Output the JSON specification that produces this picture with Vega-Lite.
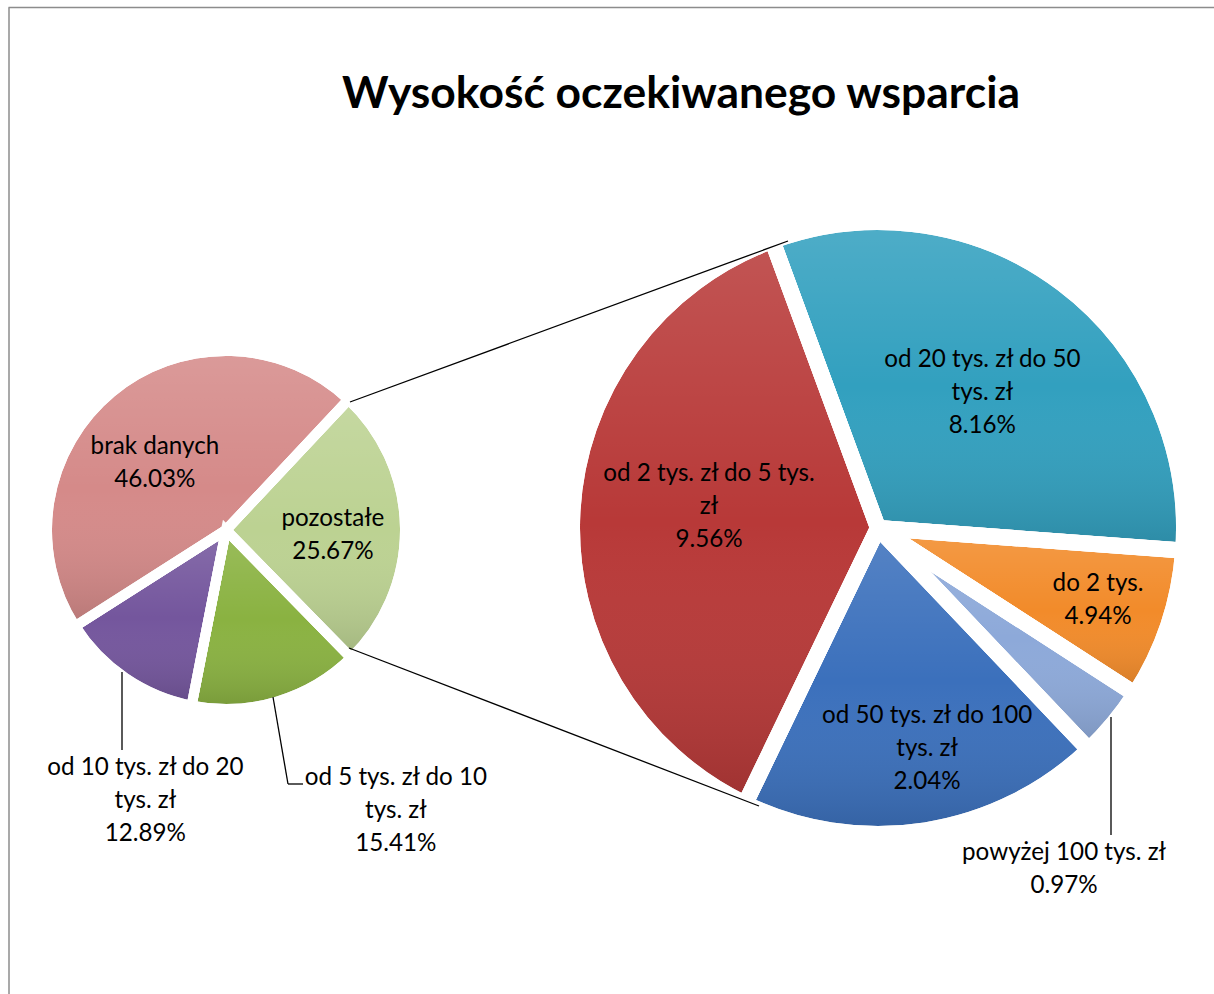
{
  "$schema": "https://vega.github.io/schema/vega-lite/v6.json",
  "width": 1214,
  "height": 994,
  "autosize": {"type": "none"},
  "padding": 0,
  "background": "white",
  "view": {"stroke": null},
  "config": {"font": "Lato"},
  "title": {
    "text": "Wysokość oczekiwanego wsparcia",
    "font": "Lato",
    "fontSize": 44.4,
    "fontWeight": "bold",
    "color": "#000000",
    "anchor": "middle",
    "frame": "group",
    "baseline": "alphabetic",
    "offset": -152,
    "dx": 74
  },
  "data": {
    "values": [
      {"wykres": "główny", "nr": 1, "kategoria": "pozostałe", "udzial": 25.67, "etykieta": "pozostałe\n25.67%"},
      {"wykres": "główny", "nr": 2, "kategoria": "od 5 tys. zł do 10 tys. zł", "udzial": 15.41, "etykieta": "od 5 tys. zł do 10\ntys. zł\n15.41%"},
      {"wykres": "główny", "nr": 3, "kategoria": "od 10 tys. zł do 20 tys. zł", "udzial": 12.89, "etykieta": "od 10 tys. zł do 20\ntys. zł\n12.89%"},
      {"wykres": "główny", "nr": 4, "kategoria": "brak danych", "udzial": 46.03, "etykieta": "brak danych\n46.03%"},
      {"wykres": "szczegóły", "nr": 1, "kategoria": "od 20 tys. zł do 50 tys. zł", "udzial": 8.16, "etykieta": "od 20 tys. zł do 50\ntys. zł\n8.16%"},
      {"wykres": "szczegóły", "nr": 2, "kategoria": "do 2 tys.", "udzial": 2.04, "etykieta": "do 2 tys.\n4.94%"},
      {"wykres": "szczegóły", "nr": 3, "kategoria": "powyżej 100 tys. zł", "udzial": 0.97, "etykieta": "powyżej 100 tys. zł\n0.97%"},
      {"wykres": "szczegóły", "nr": 4, "kategoria": "od 50 tys. zł do 100 tys. zł", "udzial": 4.94, "etykieta": "od 50 tys. zł do 100\ntys. zł\n2.04%"},
      {"wykres": "szczegóły", "nr": 5, "kategoria": "od 2 tys. zł do 5 tys. zł", "udzial": 9.56, "etykieta": "od 2 tys. zł do 5 tys.\nzł\n9.56%"}
    ]
  },
  "resolve": {"scale": {"theta": "independent"}},
  "layer": [
    {
      "transform": [{"filter": "datum.wykres === 'główny'"}],
      "mark": {"type": "arc", "outerRadius": 179, "stroke": "white", "strokeWidth": 10},
      "encoding": {
        "x": {"datum": 226, "type": "quantitative", "scale": {"domain": [0, 1214], "nice": false, "zero": false}, "axis": null},
        "y": {"datum": 530, "type": "quantitative", "scale": {"domain": [0, 994], "reverse": true, "nice": false, "zero": false}, "axis": null},
        "theta": {"field": "udzial", "type": "quantitative", "stack": true, "scale": {"range": [0.754, 7.0372]}},
        "color": {
          "field": "kategoria", "type": "nominal", "legend": null,
          "scale": {
            "domain": ["pozostałe", "od 5 tys. zł do 10 tys. zł", "od 10 tys. zł do 20 tys. zł", "brak danych", "od 20 tys. zł do 50 tys. zł", "do 2 tys.", "powyżej 100 tys. zł", "od 50 tys. zł do 100 tys. zł", "od 2 tys. zł do 5 tys. zł"],
            "range": ["#BCD292", "#8AB241", "#74569D", "#D58A89", "#32A0BF", "#F28B2A", "#8DA9D9", "#3B70BC", "#B83938"]
          }
        },
        "order": {"field": "nr", "type": "quantitative"}
      }
    },
    {
      "transform": [{"filter": "datum.wykres === 'główny'"}],
      "mark": {
        "type": "arc", "outerRadius": 179, "stroke": "white", "strokeWidth": 10,
        "fill": {"gradient": "linear", "x1": 0, "y1": 0, "x2": 0, "y2": 1, "stops": [
          {"offset": 0, "color": "rgba(255,255,255,0.14)"},
          {"offset": 0.5, "color": "rgba(255,255,255,0)"},
          {"offset": 1, "color": "rgba(0,0,0,0.14)"}
        ]}
      },
      "encoding": {
        "x": {"datum": 226, "type": "quantitative"},
        "y": {"datum": 530, "type": "quantitative"},
        "theta": {"field": "udzial", "type": "quantitative", "stack": true, "scale": {"range": [0.754, 7.0372]}},
        "detail": {"field": "kategoria", "type": "nominal"},
        "order": {"field": "nr", "type": "quantitative"}
      }
    },
    {
      "transform": [{"filter": "datum.wykres === 'szczegóły'"}],
      "mark": {"type": "arc", "outerRadius": 306, "stroke": "white", "strokeWidth": 16},
      "encoding": {
        "x": {"datum": 878, "type": "quantitative"},
        "y": {"datum": 528, "type": "quantitative"},
        "theta": {"field": "udzial", "type": "quantitative", "stack": true, "scale": {"range": [-0.3526, 5.9306]}},
        "color": {"field": "kategoria", "type": "nominal", "legend": null},
        "order": {"field": "nr", "type": "quantitative"}
      }
    },
    {
      "transform": [{"filter": "datum.wykres === 'szczegóły'"}],
      "mark": {
        "type": "arc", "outerRadius": 306, "stroke": "white", "strokeWidth": 16,
        "fill": {"gradient": "linear", "x1": 0, "y1": 0, "x2": 0, "y2": 1, "stops": [
          {"offset": 0, "color": "rgba(255,255,255,0.14)"},
          {"offset": 0.5, "color": "rgba(255,255,255,0)"},
          {"offset": 1, "color": "rgba(0,0,0,0.14)"}
        ]}
      },
      "encoding": {
        "x": {"datum": 878, "type": "quantitative"},
        "y": {"datum": 528, "type": "quantitative"},
        "theta": {"field": "udzial", "type": "quantitative", "stack": true, "scale": {"range": [-0.3526, 5.9306]}},
        "detail": {"field": "kategoria", "type": "nominal"},
        "order": {"field": "nr", "type": "quantitative"}
      }
    },
    {
      "data": {"values": [{}]},
      "mark": {"type": "rule", "color": "#8c8c8c", "strokeWidth": 1.5},
      "encoding": {"x": {"datum": 8.5, "type": "quantitative"}, "y": {"datum": 7.5, "type": "quantitative"}, "x2": {"datum": 1214}, "y2": {"datum": 7.5}}
    },
    {
      "data": {"values": [{}]},
      "mark": {"type": "rule", "color": "#8c8c8c", "strokeWidth": 1.5},
      "encoding": {"x": {"datum": 9, "type": "quantitative"}, "y": {"datum": 7.5, "type": "quantitative"}, "x2": {"datum": 9}, "y2": {"datum": 994}}
    },
    {
      "data": {"values": [{}]},
      "mark": {"type": "rule", "color": "#000000", "strokeWidth": 1.3},
      "encoding": {"x": {"datum": 350, "type": "quantitative"}, "y": {"datum": 402, "type": "quantitative"}, "x2": {"datum": 788}, "y2": {"datum": 241}}
    },
    {
      "data": {"values": [{}]},
      "mark": {"type": "rule", "color": "#000000", "strokeWidth": 1.3},
      "encoding": {"x": {"datum": 349, "type": "quantitative"}, "y": {"datum": 648, "type": "quantitative"}, "x2": {"datum": 759}, "y2": {"datum": 806}}
    },
    {
      "data": {"values": [{}]},
      "mark": {"type": "rule", "color": "#000000", "strokeWidth": 1.3},
      "encoding": {"x": {"datum": 122, "type": "quantitative"}, "y": {"datum": 672, "type": "quantitative"}, "x2": {"datum": 122}, "y2": {"datum": 750}}
    },
    {
      "data": {"values": [{}]},
      "mark": {"type": "rule", "color": "#000000", "strokeWidth": 1.3},
      "encoding": {"x": {"datum": 273, "type": "quantitative"}, "y": {"datum": 697, "type": "quantitative"}, "x2": {"datum": 288}, "y2": {"datum": 784}}
    },
    {
      "data": {"values": [{}]},
      "mark": {"type": "rule", "color": "#000000", "strokeWidth": 1.3},
      "encoding": {"x": {"datum": 288, "type": "quantitative"}, "y": {"datum": 784, "type": "quantitative"}, "x2": {"datum": 303}, "y2": {"datum": 784}}
    },
    {
      "data": {"values": [{}]},
      "mark": {"type": "rule", "color": "#000000", "strokeWidth": 1.3},
      "encoding": {"x": {"datum": 1111, "type": "quantitative"}, "y": {"datum": 717, "type": "quantitative"}, "x2": {"datum": 1111}, "y2": {"datum": 835}}
    },
    {
      "transform": [{"filter": "datum.wykres === 'główny'"}],
      "mark": {"type": "text", "radius": 97.6, "thetaOffset": -0.124, "dy": -16.5, "font": "Lato", "fontSize": 24.2, "lineHeight": 33, "lineBreak": "\n", "align": "center", "baseline": "middle", "color": "#000000"},
      "encoding": {
        "x": {"datum": 226, "type": "quantitative"},
        "y": {"datum": 530, "type": "quantitative"},
        "theta": {"field": "udzial", "type": "quantitative", "stack": true, "scale": {"range": [0.754, 7.0372]}},
        "detail": {"field": "kategoria", "type": "nominal"},
        "order": {"field": "nr", "type": "quantitative"},
        "text": {"condition": {"test": "datum.kategoria === 'brak danych'", "field": "etykieta", "type": "nominal"}, "value": ""}
      }
    },
    {
      "transform": [{"filter": "datum.wykres === 'główny'"}],
      "mark": {"type": "text", "radius": 107.1, "thetaOffset": 0.061, "dy": -16.5, "font": "Lato", "fontSize": 24.2, "lineHeight": 33, "lineBreak": "\n", "align": "center", "baseline": "middle", "color": "#000000"},
      "encoding": {
        "x": {"datum": 226, "type": "quantitative"},
        "y": {"datum": 530, "type": "quantitative"},
        "theta": {"field": "udzial", "type": "quantitative", "stack": true, "scale": {"range": [0.754, 7.0372]}},
        "detail": {"field": "kategoria", "type": "nominal"},
        "order": {"field": "nr", "type": "quantitative"},
        "text": {"condition": {"test": "datum.kategoria === 'pozostałe'", "field": "etykieta", "type": "nominal"}, "value": ""}
      }
    },
    {
      "transform": [{"filter": "datum.wykres === 'główny'"}],
      "mark": {"type": "text", "radius": 282.4, "thetaOffset": -0.309, "dy": -33, "font": "Lato", "fontSize": 24.2, "lineHeight": 33, "lineBreak": "\n", "align": "center", "baseline": "middle", "color": "#000000"},
      "encoding": {
        "x": {"datum": 226, "type": "quantitative"},
        "y": {"datum": 530, "type": "quantitative"},
        "theta": {"field": "udzial", "type": "quantitative", "stack": true, "scale": {"range": [0.754, 7.0372]}},
        "detail": {"field": "kategoria", "type": "nominal"},
        "order": {"field": "nr", "type": "quantitative"},
        "text": {"condition": {"test": "datum.kategoria === 'od 10 tys. zł do 20 tys. zł'", "field": "etykieta", "type": "nominal"}, "value": ""}
      }
    },
    {
      "transform": [{"filter": "datum.wykres === 'główny'"}],
      "mark": {"type": "text", "radius": 328.4, "thetaOffset": -0.253, "dy": -33, "font": "Lato", "fontSize": 24.2, "lineHeight": 33, "lineBreak": "\n", "align": "center", "baseline": "middle", "color": "#000000"},
      "encoding": {
        "x": {"datum": 226, "type": "quantitative"},
        "y": {"datum": 530, "type": "quantitative"},
        "theta": {"field": "udzial", "type": "quantitative", "stack": true, "scale": {"range": [0.754, 7.0372]}},
        "detail": {"field": "kategoria", "type": "nominal"},
        "order": {"field": "nr", "type": "quantitative"},
        "text": {"condition": {"test": "datum.kategoria === 'od 5 tys. zł do 10 tys. zł'", "field": "etykieta", "type": "nominal"}, "value": ""}
      }
    },
    {
      "transform": [{"filter": "datum.wykres === 'szczegóły'"}],
      "mark": {"type": "text", "radius": 170.7, "thetaOffset": 0.012, "dy": -33, "font": "Lato", "fontSize": 24.2, "lineHeight": 33, "lineBreak": "\n", "align": "center", "baseline": "middle", "color": "#000000"},
      "encoding": {
        "x": {"datum": 878, "type": "quantitative"},
        "y": {"datum": 528, "type": "quantitative"},
        "theta": {"field": "udzial", "type": "quantitative", "stack": true, "scale": {"range": [-0.3526, 5.9306]}},
        "detail": {"field": "kategoria", "type": "nominal"},
        "order": {"field": "nr", "type": "quantitative"},
        "text": {"condition": {"test": "datum.kategoria === 'od 20 tys. zł do 50 tys. zł'", "field": "etykieta", "type": "nominal"}, "value": ""}
      }
    },
    {
      "transform": [{"filter": "datum.wykres === 'szczegóły'"}],
      "mark": {"type": "text", "radius": 170.3, "thetaOffset": 0.077, "dy": -33, "font": "Lato", "fontSize": 24.2, "lineHeight": 33, "lineBreak": "\n", "align": "center", "baseline": "middle", "color": "#000000"},
      "encoding": {
        "x": {"datum": 878, "type": "quantitative"},
        "y": {"datum": 528, "type": "quantitative"},
        "theta": {"field": "udzial", "type": "quantitative", "stack": true, "scale": {"range": [-0.3526, 5.9306]}},
        "detail": {"field": "kategoria", "type": "nominal"},
        "order": {"field": "nr", "type": "quantitative"},
        "text": {"condition": {"test": "datum.kategoria === 'od 2 tys. zł do 5 tys. zł'", "field": "etykieta", "type": "nominal"}, "value": ""}
      }
    },
    {
      "transform": [{"filter": "datum.wykres === 'szczegóły'"}],
      "mark": {"type": "text", "radius": 231.5, "thetaOffset": -0.007, "dy": -16.5, "font": "Lato", "fontSize": 24.2, "lineHeight": 33, "lineBreak": "\n", "align": "center", "baseline": "middle", "color": "#000000"},
      "encoding": {
        "x": {"datum": 878, "type": "quantitative"},
        "y": {"datum": 528, "type": "quantitative"},
        "theta": {"field": "udzial", "type": "quantitative", "stack": true, "scale": {"range": [-0.3526, 5.9306]}},
        "detail": {"field": "kategoria", "type": "nominal"},
        "order": {"field": "nr", "type": "quantitative"},
        "text": {"condition": {"test": "datum.kategoria === 'do 2 tys.'", "field": "etykieta", "type": "nominal"}, "value": ""}
      }
    },
    {
      "transform": [{"filter": "datum.wykres === 'szczegóły'"}],
      "mark": {"type": "text", "radius": 226.4, "thetaOffset": -0.063, "dy": -33, "font": "Lato", "fontSize": 24.2, "lineHeight": 33, "lineBreak": "\n", "align": "center", "baseline": "middle", "color": "#000000"},
      "encoding": {
        "x": {"datum": 878, "type": "quantitative"},
        "y": {"datum": 528, "type": "quantitative"},
        "theta": {"field": "udzial", "type": "quantitative", "stack": true, "scale": {"range": [-0.3526, 5.9306]}},
        "detail": {"field": "kategoria", "type": "nominal"},
        "order": {"field": "nr", "type": "quantitative"},
        "text": {"condition": {"test": "datum.kategoria === 'od 50 tys. zł do 100 tys. zł'", "field": "etykieta", "type": "nominal"}, "value": ""}
      }
    },
    {
      "transform": [{"filter": "datum.wykres === 'szczegóły'"}],
      "mark": {"type": "text", "radius": 388.9, "thetaOffset": 0.38, "dy": -16.5, "font": "Lato", "fontSize": 24.2, "lineHeight": 33, "lineBreak": "\n", "align": "center", "baseline": "middle", "color": "#000000"},
      "encoding": {
        "x": {"datum": 878, "type": "quantitative"},
        "y": {"datum": 528, "type": "quantitative"},
        "theta": {"field": "udzial", "type": "quantitative", "stack": true, "scale": {"range": [-0.3526, 5.9306]}},
        "detail": {"field": "kategoria", "type": "nominal"},
        "order": {"field": "nr", "type": "quantitative"},
        "text": {"condition": {"test": "datum.kategoria === 'powyżej 100 tys. zł'", "field": "etykieta", "type": "nominal"}, "value": ""}
      }
    }
  ]
}
